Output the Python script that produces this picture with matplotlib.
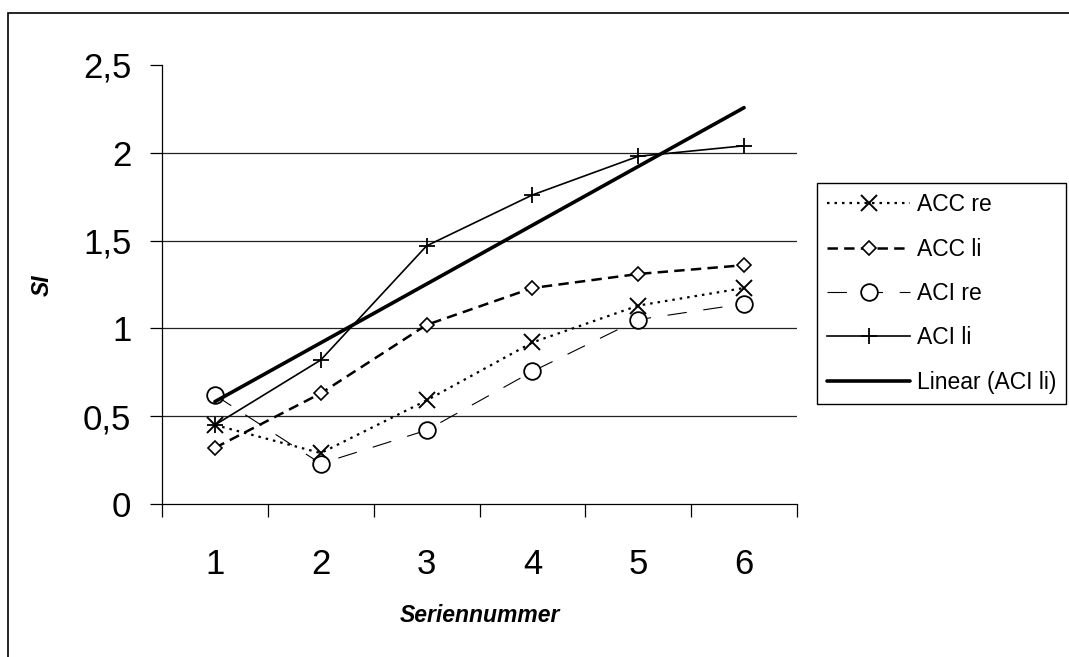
import numpy as np
import matplotlib
matplotlib.use("Agg")
import matplotlib.pyplot as plt
from matplotlib.patches import Rectangle

plt.rcParams['font.family'] = ['Liberation Sans', 'DejaVu Sans']
plt.rcParams['lines.scale_dashes'] = False

categories = [1, 2, 3, 4, 5, 6]
acc_re = [0.45, 0.29, 0.59, 0.92, 1.13, 1.23]
acc_li = [0.32, 0.63, 1.02, 1.23, 1.31, 1.36]
aci_re = [0.62, 0.23, 0.42, 0.755, 1.05, 1.14]
aci_li = [0.45, 0.82, 1.47, 1.76, 1.98, 2.04]
y_ticks = [0, 0.5, 1, 1.5, 2, 2.5]
y_tick_labels = ["0", "0,5", "1", "1,5", "2", "2,5"]
x_label = "Seriennummer"
y_label = "SI"

W, H = 1069, 657
fig = plt.figure(figsize=(W / 100, H / 100), dpi=100)
fig.patch.set_facecolor('white')

# outer border (cropped at right/bottom)
fig.patches.append(Rectangle((8 / W, -0.2), 2.0, 1.2 - 13 / H, transform=fig.transFigure,
                             fill=False, edgecolor='black', linewidth=1.2, zorder=0))

left, right, top, bottom = 162, 797, 65, 504
ax = fig.add_axes([left / W, 1 - bottom / H, (right - left) / W, (bottom - top) / H])

x = np.array(categories, dtype=float)

l1, = ax.plot(x, acc_re, color='black', lw=1.6, linestyle=(0, (1.8, 3.6)),
              marker='x', markersize=11, markeredgewidth=1.4, label='ACC re', zorder=3)
l2, = ax.plot(x, acc_li, color='black', lw=1.8, linestyle=(0, (7.5, 4.5)),
              marker='D', markersize=7, markerfacecolor='white', markeredgewidth=1.2,
              label='ACC li', zorder=3)
l3, = ax.plot(x, aci_re, color='black', lw=0.8, linestyle=(0, (14, 12)),
              marker='o', markersize=12, markerfacecolor='white', markeredgewidth=1.3,
              label='ACI re', zorder=3)
l4, = ax.plot(x, aci_li, color='black', lw=1.2, linestyle='-',
              marker='+', markersize=12, markeredgewidth=1.3, label='ACI li', zorder=3)

coef = np.polyfit(x, aci_li, 1)
trend = np.polyval(coef, x)
l5, = ax.plot(x, trend, color='black', lw=2.6, solid_capstyle='round',
              label='Linear (ACI li)', zorder=4)

ax.set_xlim(0.5, 6.5)
ax.set_ylim(0, 2.5)

for gy in y_ticks[1:-1]:
    ax.axhline(gy, color='#222222', lw=0.9, zorder=1)

ax.set_yticks(y_ticks)
ax.set_yticklabels(y_tick_labels)
ax.tick_params(axis='y', direction='out', length=9, width=0.9, pad=13, labelsize=25)

ax.set_xticks(categories)
ax.set_xticklabels([str(c) for c in categories])
ax.set_xticks(np.arange(0.5, 6.6, 1.0), minor=True)
ax.tick_params(axis='x', which='major', length=0, pad=32, labelsize=25)
ax.tick_params(axis='x', which='minor', direction='out', length=9, width=0.9)

for s in ['top', 'right']:
    ax.spines[s].set_visible(False)
for s in ['left', 'bottom']:
    ax.spines[s].set_linewidth(0.9)

fig.text(480 / W, 1 - 616 / H, x_label, ha='center', va='center', fontsize=16.5,
         fontweight='bold', fontstyle='italic')
fig.text(42 / W, 1 - 285 / H, y_label, ha='center', va='center', fontsize=16.5,
         fontweight='bold', fontstyle='italic', rotation=90)

leg = fig.legend(handles=[l1, l2, l3, l4, l5], loc='upper left',
                 bbox_to_anchor=(817 / W, 1 - 183 / H), bbox_transform=fig.transFigure,
                 borderaxespad=0, fontsize=16.5, handlelength=3.6, handletextpad=0.3,
                 labelspacing=0.93, borderpad=0.45, fancybox=False, frameon=True,
                 edgecolor='black', framealpha=1)
leg.get_frame().set_linewidth(1.0)

fig.savefig('out.png', dpi=100, facecolor='white')
